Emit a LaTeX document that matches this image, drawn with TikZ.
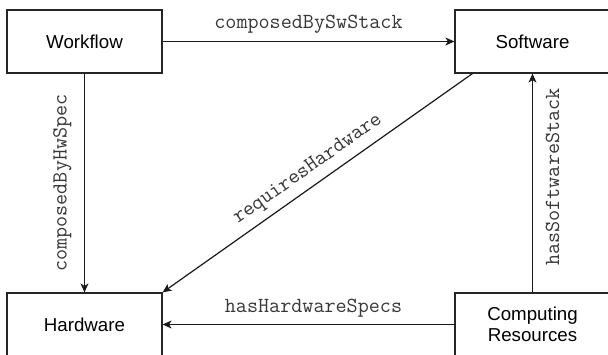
\documentclass[tikz,border=0pt]{standalone}
\usepackage{fontspec}
\setmainfont{Liberation Sans}
\usetikzlibrary{arrows.meta,calc}

\tikzset{
  entity/.style={draw=black!85, line width=1.2pt, fill=white,
    minimum width=155pt, minimum height=63pt, inner sep=0pt,
    align=center, font=\fontsize{18.7}{21.5}\selectfont},
  rel/.style={line width=1.2pt, draw=black!90,
    -{Stealth[length=9pt,width=8pt,inset=2.5pt]}},
  lbl/.style={font=\ttfamily\fontsize{21.5}{23}\selectfont, text=black!78,
    inner sep=2pt}
}

\begin{document}
\begin{tikzpicture}[x=1pt, y=-1pt]
  \clip (0,0) rectangle (608,354);
  \useasboundingbox (0,0) rectangle (608,354);
  \fill[white] (0,0) rectangle (608,354);

  % the four entities
  \node[entity] (wf) at (84.5,41.5) {Workflow};
  \node[entity] (sw) at (532.5,41.5) {Software};
  \node[entity] (hw) at (84.5,324.5) {\raisebox{-2pt}{Hardware}};
  \node[entity] (cr) at (532.5,324.5) {\raisebox{-2pt}{Computing}\\\raisebox{-2pt}{Resources}};

  % relations between them
  \draw[rel] (wf.east) -- (sw.west)
    node[lbl, midway, above=6pt] {composedBySwStack};

  \draw[rel] (wf.south) -- (hw.north) coordinate[midway] (m1);
  \node[lbl, rotate=90] (l1) at ([xshift=-22pt]m1) {composedByHwSpec};

  \coordinate (swfoot) at ([xshift=18pt]sw.south west);
  \draw[rel] (swfoot) -- (hw.north east)
    node[lbl, midway, sloped, above=5pt] {requiresHardware};

  \draw[rel] (cr.north) -- (sw.south) coordinate[midway] (m2);
  \node[lbl, rotate=90] (l2) at ([xshift=20pt,yshift=6pt]m2) {hasSoftwareStack};

  \draw[rel] (cr.west) -- (hw.east)
    node[lbl, midway, above=5pt, xshift=5pt] {hasHardwareSpecs};
\end{tikzpicture}
\end{document}
